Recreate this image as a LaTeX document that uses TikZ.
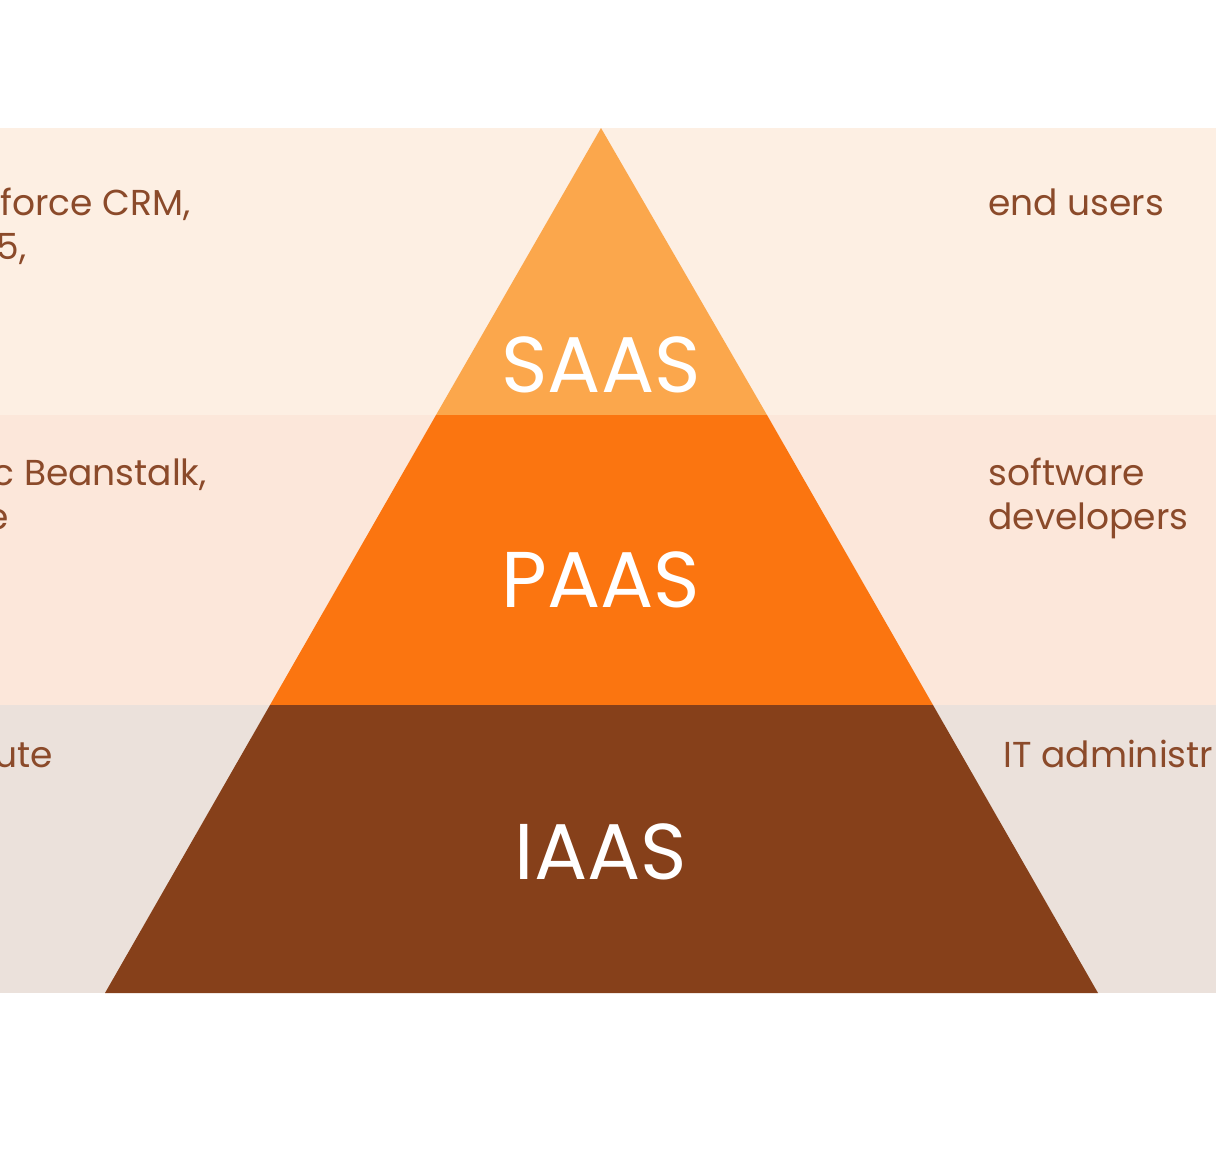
\documentclass[tikz,border=0pt]{standalone}
\usepackage{fontspec}
\setmainfont{Poppins}
\begin{document}
\begin{tikzpicture}[x=0.02cm,y=-0.02cm,
  sidetext/.style={text=sidecol, font=\fontsize{20.5}{25}\selectfont, inner sep=0pt},
  layertext/.style={text=white, font=\fontsize{45}{50}\selectfont, inner sep=0pt}]
\definecolor{sidecol}{HTML}{8B4A2A}
\useasboundingbox (0,0) rectangle (1216,1164);
\clip (0,0) rectangle (1216,1164);
% background bands
\definecolor{col}{HTML}{FDEFE3}
\fill[col] (0,128) rectangle (1216,415);
\definecolor{col}{HTML}{FCE7DA}
\fill[col] (0,415) rectangle (1216,705);
\definecolor{col}{HTML}{EBE1DB}
\fill[col] (0,705) rectangle (1216,993);
% pyramid layers
\definecolor{col}{HTML}{FBA74C}
\fill[col] (601,128) -- (767,415) -- (436,415) -- cycle;
\definecolor{col}{HTML}{FB7510}
\fill[col] (436,415) -- (767,415) -- (933,705) -- (270,705) -- cycle;
\definecolor{col}{HTML}{86401A}
\fill[col] (270,705) -- (933,705) -- (1098,993) -- (105,993) -- cycle;
\node[layertext] (saas) at (601,365) {SAAS};
\node[layertext] (paas) at (601,580) {PAAS};
\node[layertext] (iaas) at (601,852) {IAAS};
% left texts
\node[sidetext, anchor=base east] (saasexa) at (191,215) {force CRM,};
\node[sidetext, anchor=base east] (saasexb) at (27,259) {5,};
\node[sidetext, anchor=base east] (paasexa) at (207,485) {c Beanstalk,};
\node[sidetext, anchor=base east] (paasexb) at (9,529) {e};
\node[sidetext, anchor=base east] (iaasex) at (53,767) {ute};
% right texts
\node[sidetext, anchor=base west] (saasuser) at (988,215) {end users};
\node[sidetext, anchor=base west] (paasusera) at (988,485) {software};
\node[sidetext, anchor=base west] (paasuserb) at (988,529) {developers};
\node[sidetext, anchor=base west] (iaasuser) at (1003,767) {IT administr};
\end{tikzpicture}
\end{document}
